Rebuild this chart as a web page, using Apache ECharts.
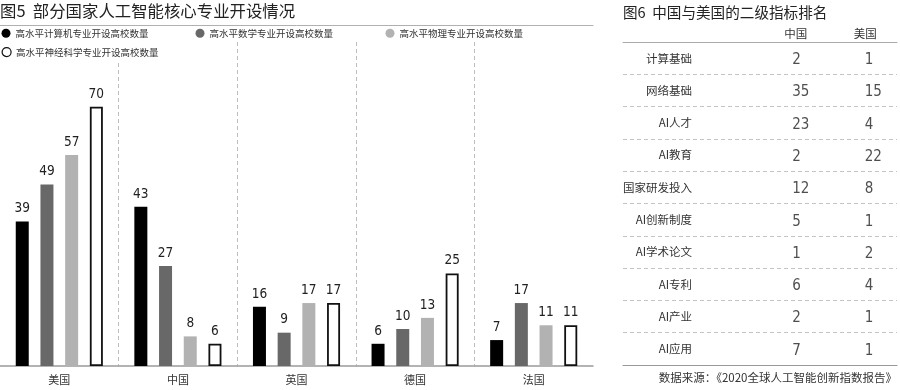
<!DOCTYPE html>
<html><head><meta charset="utf-8">
<script src="https://cdn.jsdelivr.net/npm/echarts@6/dist/echarts.min.js"></script>
<style>html,body{margin:0;padding:0;background:#fff}#c{width:900px;height:390px}</style>
</head><body><div id="c"></div>
<script>
// ---- data ----
const countries = ['美国', '中国', '英国', '德国', '法国'];
const seriesNames = ['高水平计算机专业开设高校数量', '高水平数学专业开设高校数量', '高水平物理专业开设高校数量', '高水平神经科学专业开设高校数量'];
const computerSchools = [39, 43, 16, 6, 7];
const mathSchools = [49, 27, 9, 10, 17];
const physicsSchools = [57, 8, 17, 13, 11];
const neuroSchools = [70, 6, 17, 25, 11];

const indicatorNames = ['计算基础', '网络基础', 'AI人才', 'AI教育', '国家研发投入', 'AI创新制度', 'AI学术论文', 'AI专利', 'AI产业', 'AI应用'];
const tableHeaders = ['中国', '美国'];
const chinaRanks = [2, 35, 23, 2, 12, 5, 1, 6, 2, 7];
const usRanks = [1, 15, 4, 22, 8, 1, 2, 4, 1, 1];

const leftTitle = '图5  部分国家人工智能核心专业开设情况';
const rightTitle = '图6  中国与美国的二级指标排名';
const sourceText = '数据来源：《2020全球人工智能创新指数报告》';

// ---- styles ----
const CJK = "'Noto Sans CJK SC', 'Noto Sans', sans-serif";
const NUM = "'Liberation Sans Narrow', 'DejaVu Sans Condensed', 'Noto Sans CJK SC', sans-serif";
const barColors = ['#000000', '#686868', '#b2b2b2', '#ffffff'];
const barData = [computerSchools, mathSchools, physicsSchools, neuroSchools];

const chart = echarts.init(document.getElementById('c'), null, {renderer: 'canvas'});

const barSeries = barData.map((d, i) => ({
  type: 'bar', name: seriesNames[i], data: d,
  xAxisIndex: 0, yAxisIndex: 0,
  barWidth: 13, barGap: '90%',
  itemStyle: i === 3 ? {color: '#ffffff', borderColor: '#111', borderWidth: 1.8} : {color: barColors[i]},
  label: {show: true, position: 'top', distance: 6, fontFamily: NUM, fontSize: 13.5, color: '#222'},
  emphasis: {disabled: true}
}));

const legendCommon = {
  orient: 'horizontal', itemWidth: 9, itemHeight: 9, icon: 'circle', padding: 0,
  selectedMode: false,
  textStyle: {fontSize: 9.5, color: '#333', fontFamily: CJK}
};

function tableSeries(vals, xIdx, offX) {
  return {
    type: 'scatter', xAxisIndex: 4, yAxisIndex: 2,
    data: vals.map((v, i) => [xIdx, i, v]),
    symbolSize: 1, itemStyle: {color: 'rgba(0,0,0,0)'},
    label: {show: true, position: 'inside', align: 'left', offset: [offX, 2],
      formatter: p => String(p.value[2]), fontFamily: NUM, fontSize: 15, color: '#222'},
    emphasis: {disabled: true}, silent: true
  };
}

chart.setOption({
  animation: false,
  backgroundColor: '#fff',
  title: [
    {text: leftTitle, left: 0, top: 3, padding: 0,
      textStyle: {fontSize: 16.4, fontWeight: 'normal', color: '#222', fontFamily: CJK}},
    {text: rightTitle, left: 623, top: 5.5, padding: 0,
      textStyle: {fontSize: 14.6, fontWeight: 'normal', color: '#222', fontFamily: CJK}},
    {text: sourceText, right: 3, top: 371.5, padding: 0,
      textStyle: {fontSize: 11.5, fontWeight: 'normal', color: '#333', fontFamily: CJK}}
  ],
  legend: [
    Object.assign({}, legendCommon, {data: [seriesNames[0]], left: 1.5, top: 28.5}),
    Object.assign({}, legendCommon, {data: [seriesNames[1]], left: 195.5, top: 28.5}),
    Object.assign({}, legendCommon, {data: [seriesNames[2]], left: 385.5, top: 28.5}),
    Object.assign({}, legendCommon, {data: [seriesNames[3]], left: 1.5, top: 41,
      padding: [6, 4, 5, 0], backgroundColor: '#fff',
      itemStyle: {borderColor: '#111', borderWidth: 1.2}})
  ],
  grid: [
    {left: 0, top: 42, width: 593, height: 324},
    {left: 623, top: 42, right: 3, height: 323},
    {left: 761, top: 42, width: 150, height: 323}
  ],
  xAxis: [
    {gridIndex: 0, type: 'category', data: countries,
      axisLine: {lineStyle: {color: '#9a9a9a', width: 1.5}},
      axisTick: {show: false},
      axisLabel: {fontSize: 11, color: '#333', margin: 8, fontFamily: CJK},
      splitLine: {show: true, interval: 0, showMinLine: false, showMaxLine: false,
        lineStyle: {color: '#bdbdbd', type: [4, 3], width: 1}}},
    {gridIndex: 0, type: 'category', data: countries, position: 'top', offset: 17,
      axisLine: {lineStyle: {color: '#b0b0b0', width: 1}},
      axisTick: {show: false}, axisLabel: {show: false}, splitLine: {show: false}},
    {gridIndex: 1, type: 'category', data: tableHeaders, position: 'top',
      axisLine: {lineStyle: {color: '#aaaaaa', width: 1}},
      axisTick: {show: false}, axisLabel: {show: false}, splitLine: {show: false}},
    {gridIndex: 1, type: 'category', data: tableHeaders, position: 'bottom',
      axisLine: {lineStyle: {color: '#999999', width: 1}},
      axisTick: {show: false}, axisLabel: {show: false}, splitLine: {show: false}},
    {gridIndex: 2, type: 'category', data: tableHeaders, position: 'top',
      axisLine: {show: false}, axisTick: {show: false},
      axisLabel: {fontSize: 11.5, color: '#333', margin: 3, fontFamily: CJK},
      splitLine: {show: false}}
  ],
  yAxis: [
    {gridIndex: 0, type: 'value', min: 0, max: 87.5, show: false, splitLine: {show: false}},
    {gridIndex: 1, type: 'category', data: indicatorNames, inverse: true, position: 'left', offset: -69,
      axisLine: {show: false}, axisTick: {show: false},
      axisLabel: {fontSize: 11.5, color: '#333', margin: 0, fontFamily: CJK, padding: [4, 0, 0, 0]},
      splitLine: {show: true, interval: 0, showMinLine: false, showMaxLine: false,
        lineStyle: {color: '#c4c4c4', type: [4, 3], width: 1}}},
    {gridIndex: 2, type: 'category', data: indicatorNames, inverse: true, show: false}
  ],
  series: barSeries.concat([
    tableSeries(chinaRanks, 0, -3.5),
    tableSeries(usRanks, 1, -0.5)
  ])
});
</script>
</body></html>
